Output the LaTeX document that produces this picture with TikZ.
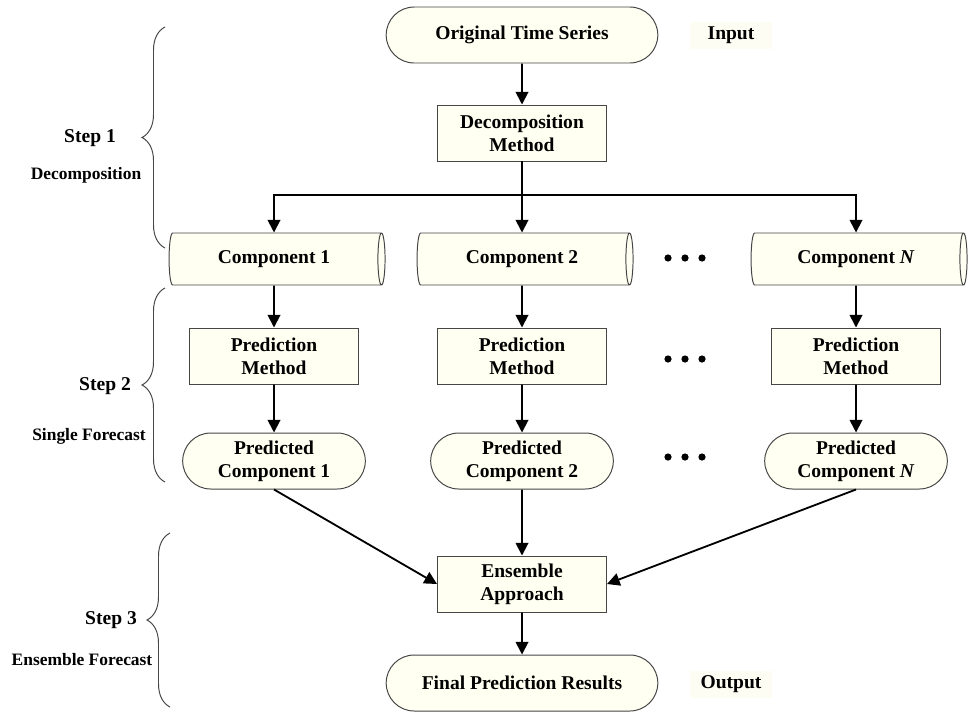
\documentclass[tikz,border=0pt]{standalone}
\usepackage{fontspec}
\setmainfont{Liberation Serif}
\usetikzlibrary{arrows.meta,shapes.geometric,shapes.misc,decorations.pathreplacing,calc}
\definecolor{cream}{RGB}{255,255,242}
\definecolor{tagbg}{RGB}{253,253,244}
\definecolor{edge}{RGB}{70,70,70}
\newcommand{\bigtxt}{\fontsize{13.9}{16.3}\selectfont\bfseries}
\newcommand{\smalltxt}{\fontsize{12.4}{14}\selectfont\bfseries}

\begin{document}
\begin{tikzpicture}[
    box/.style={draw=edge, line width=0.7pt, fill=cream, minimum width=4.225cm, minimum height=1.4cm, align=center, font=\bigtxt},
    term/.style={rounded rectangle, draw=edge, line width=0.7pt, fill=cream, minimum width=7.025cm, minimum height=1.4cm, align=center, font=\bigtxt},
    comp/.style={cylinder, shape aspect=0.27, draw=edge, line width=0.7pt, fill=cream, minimum width=1.3cm, minimum height=5.4cm, font=\bigtxt},
    tag/.style={fill=tagbg, minimum width=2.05cm, minimum height=0.675cm, font=\bigtxt},
    stepl/.style={font=\bigtxt},
    stepd/.style={font=\smalltxt},
    brc/.style={decorate, decoration={brace, amplitude=0.575cm}, draw=edge, line width=0.7pt},
    arr/.style={-{Triangle[length=9pt, width=9pt]}, line width=1.3pt},
    ln/.style={line width=1.3pt}
]
\useasboundingbox (0,0) rectangle (24.225,-17.775);

\node[term] (orig) at (13.05,-0.875) {Original Time Series};
\node[tag] (inp) at (18.275,-0.875) {Input};
\node[box] (dec) at (13.05,-3.325) {Decomposition\\Method};
\coordinate (jn) at (13.05,-4.875);

\node[comp] (c1) at (6.85,-6.475) {Component 1};
\node[comp] (c2) at (13.05,-6.475) {Component 2};
\node[comp] (c3) at (21.4,-6.475) {Component \textit{N}};

\node[box] (m1) at (6.85,-8.9) {Prediction\\Method};
\node[box] (m2) at (13.05,-8.9) {Prediction\\Method};
\node[box] (m3) at (21.4,-8.9) {Prediction\\Method};

\node[term, minimum width=4.8cm] (p1) at (6.85,-11.525) {Predicted\\Component 1};
\node[term, minimum width=4.8cm] (p2) at (13.05,-11.525) {Predicted\\Component 2};
\node[term, minimum width=4.8cm] (p3) at (21.4,-11.525) {Predicted\\Component \textit{N}};

\node[box] (ens) at (13.05,-14.6) {Ensemble\\Approach};
\node[term] (fin) at (13.05,-17.075) {Final Prediction Results};
\node[tag] (out) at (18.275,-17.1) {Output};

\foreach \y in {-6.45,-8.975,-11.425}
  \foreach \dx in {-0.425,0,0.425}
    \fill (17.125+\dx,\y) circle (0.09);

\draw[arr] (orig) -- (dec);
\draw[ln] (dec) -- (jn);
\draw[arr] (jn) -| (c1);
\draw[arr] (jn) -- (c2);
\draw[arr] (jn) -| (c3);
\draw[arr] (c1) -- (m1);
\draw[arr] (c2) -- (m2);
\draw[arr] (c3) -- (m3);
\draw[arr] (m1) -- (p1);
\draw[arr] (m2) -- (p2);
\draw[arr] (m3) -- (p3);
\draw[arr] (p1.south) -- (ens.west);
\draw[arr] (p2) -- (ens);
\draw[arr] (p3.south) -- (ens.east);
\draw[arr] (ens) -- (fin);

\draw[brc] (4.125,-6.2) -- (4.125,-0.675);
\draw[brc] (4.125,-12.05) -- (4.125,-7.2);
\draw[brc] (4.25,-17.675) -- (4.25,-13.325);

\node[stepl] (s1) at (2.25,-3.45) {Step 1};
\node[stepd] (d1) at (2.15,-4.375) {Decomposition};
\node[stepl] (s2) at (2.625,-9.65) {Step 2};
\node[stepd] (d2) at (2.225,-10.9) {Single Forecast};
\node[stepl] (s3) at (2.775,-15.5) {Step 3};
\node[stepd] (d3) at (2.05,-16.5) {Ensemble Forecast};
\end{tikzpicture}
\end{document}
